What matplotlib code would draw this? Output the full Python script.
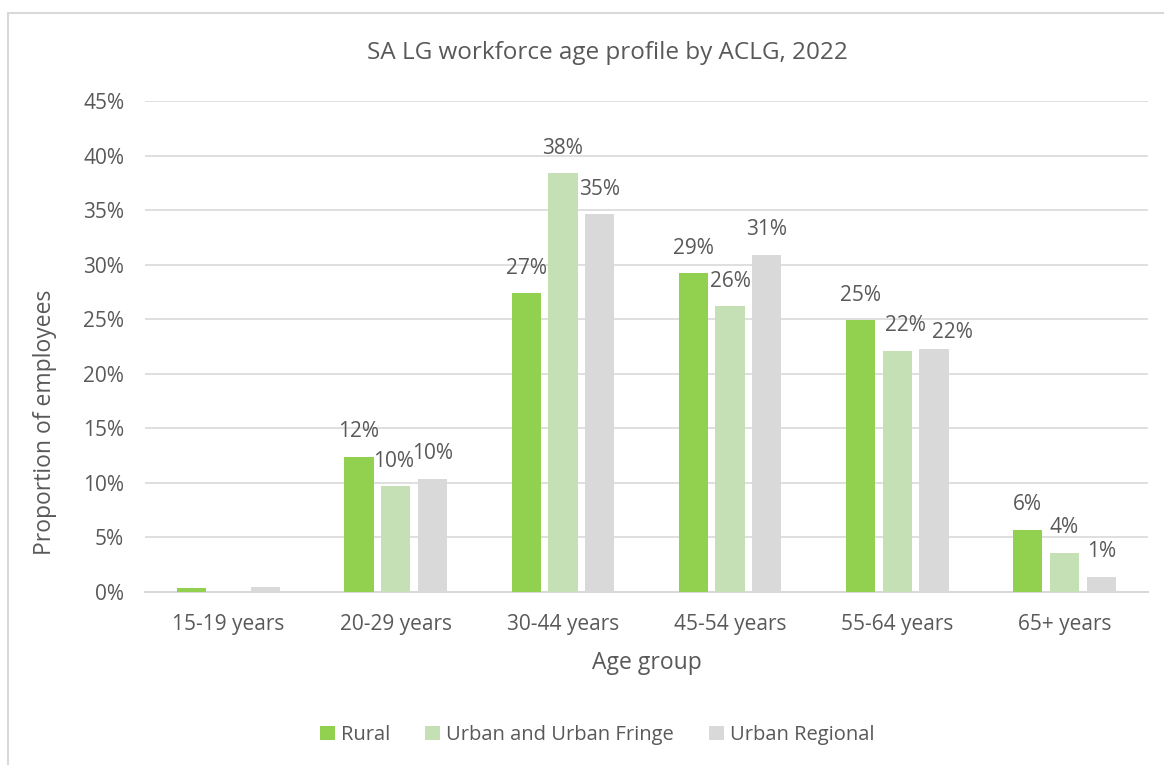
import matplotlib
matplotlib.use("Agg")
import matplotlib.pyplot as plt
import numpy as np
from matplotlib.patches import Rectangle

categories = ["15-19 years", "20-29 years", "30-44 years", "45-54 years", "55-64 years", "65+ years"]
series_names = ["Rural", "Urban and Urban Fringe", "Urban Regional"]
rural = [0.4, 12.4, 27.4, 29.2, 24.9, 5.7]
urban_fringe = [0.0, 9.7, 38.4, 26.2, 22.1, 3.6]
urban_regional = [0.5, 10.4, 34.6, 30.9, 22.3, 1.4]
yticks = [0, 5, 10, 15, 20, 25, 30, 35, 40, 45]
colors = ["#92D050", "#C5E0B4", "#D9D9D9"]
text_color = "#595959"

# manual label nudges (pixels) as in the source chart: (series, category) -> (dx, dy)
label_nudge = {(1, 4): (8, 0), (2, 4): (18, -9), (1, 1): (-2, 0)}

plt.rcParams['font.family'] = ['Open Sans', 'DejaVu Sans']

fig = plt.figure(figsize=(11.64, 7.65), dpi=100)
W, H = 1164, 765
ax = fig.add_axes([145 / W, 1 - 592 / H, (1148 - 145) / W, (592 - 101) / H])

# figure border
fig.patches.append(Rectangle((8 / W, -0.01), 1.02, 1 - 13 / H + 0.01, transform=fig.transFigure,
                             fill=False, edgecolor="#D9D9D9", linewidth=1.5))

x = np.arange(len(categories))
bw = 0.175
step = 0.22
data = [rural, urban_fringe, urban_regional]
for i, (vals, name, c) in enumerate(zip(data, series_names, colors)):
    pos = x + (i - 1) * step
    ax.bar(pos, vals, width=bw, color=c, label=name, zorder=3)
    for j, (xp, v) in enumerate(zip(pos, vals)):
        if v >= 1:
            dx, dy = label_nudge.get((i, j), (0, 0))
            ax.annotate(f"{round(v):.0f}%", (xp, v), xytext=(dx, 25 + dy),
                        textcoords="offset pixels", ha="center", va="center",
                        fontsize=15, color=text_color)

ax.set_xlim(-0.5, len(categories) - 0.5)
ax.set_ylim(0, 45)
ax.set_yticks(yticks)
ax.set_yticklabels([f"{t}%" for t in yticks])
ax.set_xticks(x)
ax.set_xticklabels(categories)
ax.yaxis.grid(True, color="#D9D9D9", linewidth=1.2, zorder=0)
ax.set_axisbelow(True)
for s in ["top", "right", "left"]:
    ax.spines[s].set_visible(False)
ax.spines["bottom"].set_color("#D9D9D9")
ax.spines["bottom"].set_linewidth(1.5)
ax.tick_params(axis="both", length=0, labelsize=15, colors=text_color)
ax.tick_params(axis="y", pad=15)
ax.tick_params(axis="x", pad=16)

ax.set_xlabel("Age group", fontsize=16.5, color=text_color)
ax.xaxis.set_label_coords(0.5, -(651 - 592) / 491)
ax.set_ylabel("Proportion of employees", fontsize=16.5, color=text_color)
ax.yaxis.set_label_coords(-(145 - 57) / 1003, (592 - 422) / 491)

fig.text(607 / W, 1 - 53 / H, "SA LG workforce age profile by ACLG, 2022", ha="center", va="center",
         fontsize=17.5, color=text_color)

leg = fig.legend(loc="center", bbox_to_anchor=(597 / W, 1 - 735 / H), ncol=3, frameon=False,
                 fontsize=14.5, handlelength=0.75, handleheight=0.75, handletextpad=0.3, columnspacing=1.73)
for t in leg.get_texts():
    t.set_color(text_color)

fig.savefig("out.png", dpi=100)
